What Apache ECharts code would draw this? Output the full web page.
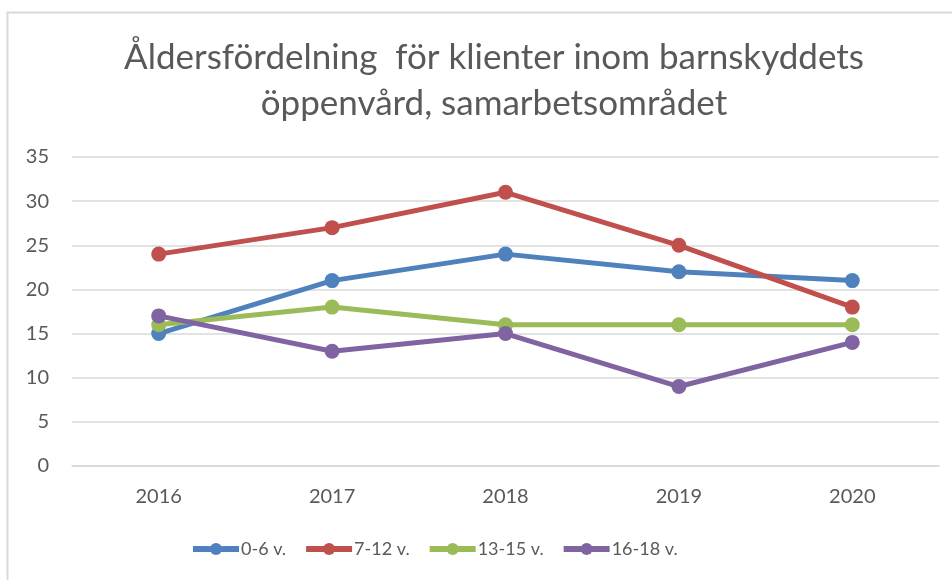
<!DOCTYPE html>
<html>
<head>
<meta charset="utf-8">
<script src="https://cdn.jsdelivr.net/npm/echarts@6/dist/echarts.min.js"></script>
<style>
  html, body { margin: 0; padding: 0; background: #fff; }
  #box { width: 952px; height: 580px; }
</style>
</head>
<body>
<div id="box"></div>
<script>
var years = ['2016', '2017', '2018', '2019', '2020'];
var age0to6 = [15, 21, 24, 22, 21];
var age7to12 = [24, 27, 31, 25, 18];
var age13to15 = [16, 18, 16, 16, 16];
var age16to18 = [17, 13, 15, 9, 14];
var seriesNames = ['0-6 v.', '7-12 v.', '13-15 v.', '16-18 v.'];

var chartDom = document.getElementById('box');
var myChart = echarts.init(chartDom);
var font = 'Lato, "Open Sans", sans-serif';
const colors = ['#4F81BD', '#C0504D', '#9BBB59', '#8064A2'];

function line(name, data) {
  return {
    name: name,
    type: 'line',
    symbol: 'circle',
    symbolSize: 15,
    lineStyle: { width: 5 },
    data: data
  };
}

var option = {
  color: colors,
  animation: false,
  textStyle: { fontFamily: font },
  graphic: [{
    type: 'rect',
    shape: { x: 7.5, y: 12.5, width: 960, height: 600 },
    style: { fill: 'none', stroke: '#d9d9d9', lineWidth: 2 },
    silent: true
  }],
  title: {
    text: 'Åldersfördelning  för klienter inom barnskyddets\nöppenvård, samarbetsområdet',
    left: 489,
    top: 30,
    textAlign: 'center',
    textStyle: {
      fontFamily: font,
      fontWeight: 'normal',
      fontSize: 35,
      color: '#595959',
      lineHeight: 46
    }
  },
  legend: {
    bottom: 17,
    left: 185,
    itemWidth: 46,
    itemHeight: 15,
    itemGap: 17,
    lineStyle: { width: 6 },
    textStyle: { fontSize: 18, color: '#595959', padding: [0, 0, 0, -3] },
    data: seriesNames
  },
  grid: {
    left: 72,
    right: 13,
    top: 157,
    bottom: 114
  },
  xAxis: {
    type: 'category',
    data: years,
    axisTick: { show: false },
    axisLine: { lineStyle: { color: '#d9d9d9', width: 1.5 } },
    axisLabel: { color: '#595959', fontSize: 20, margin: 21 }
  },
  yAxis: {
    type: 'value',
    min: 0,
    max: 35,
    interval: 5,
    axisLine: { show: false },
    axisTick: { show: false },
    splitLine: { lineStyle: { color: '#d9d9d9', width: 1.5 } },
    axisLabel: { color: '#595959', fontSize: 20, margin: 23 }
  },
  series: [
    line(seriesNames[0], age0to6),
    line(seriesNames[1], age7to12),
    line(seriesNames[2], age13to15),
    line(seriesNames[3], age16to18)
  ]
};
option && myChart.setOption(option);
</script>
</body>
</html>
